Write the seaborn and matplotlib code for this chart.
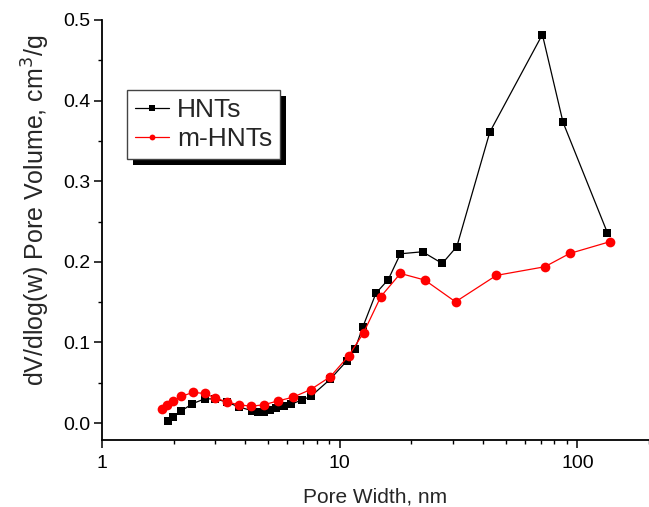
import numpy as np
import pandas as pd
import matplotlib
matplotlib.use("Agg")
import matplotlib.pyplot as plt
import seaborn as sns
from matplotlib.ticker import FixedLocator, FuncFormatter, MultipleLocator, LogLocator, NullFormatter
from matplotlib.patches import Rectangle
from matplotlib.transforms import IdentityTransform

# ---- data ----
hnts_x = [1.89, 1.99, 2.14, 2.40, 2.70, 3.00, 3.35, 3.77, 4.26, 4.54, 4.81, 5.07, 5.41,
          5.81, 6.26, 6.91, 7.55, 9.13, 10.7, 11.6, 12.5, 14.2, 16.0, 18.0, 22.3, 27.0,
          31.1, 42.8, 71.2, 87.0, 133.7]
hnts_y = [0.002, 0.007, 0.0145, 0.024, 0.030, 0.030, 0.026, 0.020, 0.0155, 0.014, 0.014,
          0.0165, 0.019, 0.0215, 0.0235, 0.0285, 0.033, 0.0545, 0.077, 0.092, 0.119, 0.161,
          0.178, 0.210, 0.2125, 0.198, 0.219, 0.361, 0.482, 0.373, 0.236]
mhnts_x = [1.79, 1.88, 1.99, 2.15, 2.41, 2.70, 3.00, 3.35, 3.77, 4.25, 4.78, 5.50, 6.35,
           7.55, 9.13, 10.9, 12.6, 14.9, 18.0, 22.8, 30.7, 45.6, 72.9, 92.8, 137.7]
mhnts_y = [0.017, 0.023, 0.0276, 0.033, 0.038, 0.0368, 0.031, 0.0264, 0.0225, 0.021,
           0.0226, 0.0275, 0.032, 0.0416, 0.0575, 0.0833, 0.112, 0.157, 0.1856, 0.1774,
           0.1504, 0.1832, 0.1939, 0.2104, 0.2252]
series_names = ["HNTs", "m-HNTs"]
x_tick_values = [1, 10, 100]
x_tick_labels = ["1", "10", "100"]
y_tick_values = [0.0, 0.1, 0.2, 0.3, 0.4, 0.5]

sns.set_style("ticks")
plt.rcParams["font.family"] = ["Liberation Sans", "DejaVu Sans"]

fig = plt.figure(figsize=(6.49, 5.07), dpi=100)
ax = fig.add_axes([102/649, 67/507, 547/649, 420/507])

df1 = pd.DataFrame({"x": hnts_x, "y": hnts_y})
df2 = pd.DataFrame({"x": mhnts_x, "y": mhnts_y})
sns.lineplot(data=df1, x="x", y="y", ax=ax, color="black", marker="s", markersize=6.3,
             markeredgewidth=0, linewidth=0.9, sort=False, estimator=None, label=series_names[0])
sns.lineplot(data=df2, x="x", y="y", ax=ax, color="#ff0000", marker="o", markersize=7,
             markeredgewidth=0, linewidth=0.9, sort=False, estimator=None, label=series_names[1])

ax.set_xscale("log")
ax.set_xlim(1, 200)
ax.set_ylim(-0.021, 0.5)
ax.xaxis.set_major_locator(FixedLocator(x_tick_values))
ax.xaxis.set_major_formatter(FuncFormatter(lambda v, p: x_tick_labels[x_tick_values.index(round(v))] if round(v) in x_tick_values else ""))
ax.xaxis.set_minor_locator(LogLocator(base=10, subs=np.arange(2, 10)))
ax.xaxis.set_minor_formatter(NullFormatter())
ax.yaxis.set_major_locator(FixedLocator(y_tick_values))
ax.yaxis.set_major_formatter(FuncFormatter(lambda v, p: f"{v:.1f}"))
ax.yaxis.set_minor_locator(MultipleLocator(0.05))

for s in ["top", "right"]:
    ax.spines[s].set_visible(False)
for s in ["left", "bottom"]:
    ax.spines[s].set_linewidth(1.3)
    ax.spines[s].set_color("black")
ax.tick_params(axis="both", which="major", direction="out", length=6, width=1.1,
               labelsize=14, colors="black")
ax.tick_params(axis="both", which="minor", direction="out", length=3.2, width=1.0, colors="black")
ax.tick_params(axis="y", which="major", pad=2.5)
ax.tick_params(axis="x", which="major", pad=5)

ax.set_xlabel("Pore Width, nm", fontsize=15)
ax.set_ylabel("dV/dlog(w) Pore Volume, cm$^3$/g", fontsize=18)
ax.xaxis.set_label_coords(0.5, -0.112)
ax.yaxis.set_label_coords(-0.0914, 0.548)

leg = ax.legend(loc="upper left", bbox_to_anchor=(127/649, 1 - 90/507),
                bbox_transform=fig.transFigure, borderaxespad=0, fontsize=19,
                handlelength=1.3, handletextpad=0.3, borderpad=0.3, labelspacing=0.2,
                markerscale=0.6, frameon=True, fancybox=False, shadow=False)
leg.get_frame().set_edgecolor("#444444")
leg.get_frame().set_linewidth(1.0)
leg.get_frame().set_facecolor("white")
leg.get_frame().set_alpha(1)
leg.set_zorder(5)

fig.canvas.draw()
bb = leg.get_frame().get_window_extent()
shadow = Rectangle((bb.x0 + 6, bb.y0 - 6), bb.width, bb.height, transform=IdentityTransform(),
                   facecolor="black", edgecolor="none", zorder=4.5, clip_on=False)
ax.add_patch(shadow)

fig.savefig("out.png", dpi=100)
